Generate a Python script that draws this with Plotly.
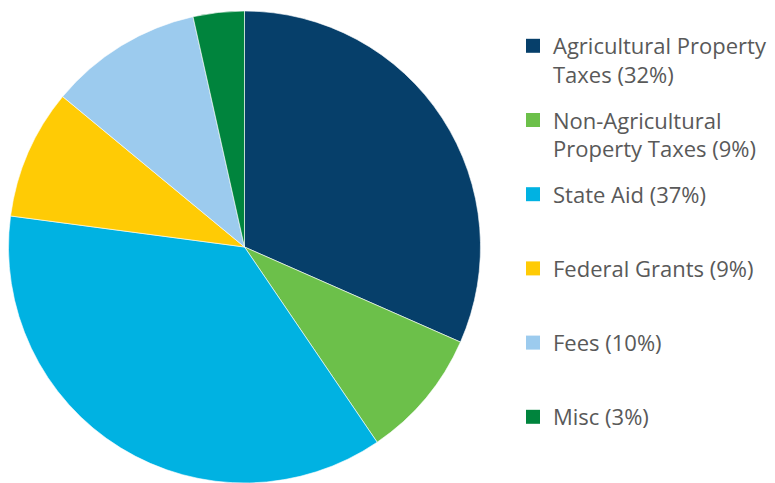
import plotly.graph_objects as go

# ---- data ----
labels = ["Agricultural Property Taxes", "Non-Agricultural Property Taxes",
          "State Aid", "Federal Grants", "Fees", "Misc"]
shares = [31.6, 8.9, 36.6, 8.9, 10.5, 3.5]
legend_text = ["Agricultural Property<br>Taxes (32%)",
               "Non-Agricultural<br>Property Taxes (9%)",
               "State Aid (37%)<br> ",
               "Federal Grants (9%)<br> ",
               "Fees (10%)<br> ",
               "Misc (3%)<br> "]
colors = ["#063f6a", "#6cc04a", "#00b2e2", "#ffcb05", "#9ccbee", "#00843d"]

W, H = 775, 483

fig = go.Figure()
fig.add_trace(go.Pie(
    labels=labels, values=shares, sort=False, direction="clockwise", rotation=0,
    textinfo="none", showlegend=False, automargin=False,
    marker=dict(colors=colors, line=dict(color="white", width=0.6)),
    domain=dict(x=[7 / W, 482 / W], y=[0, 1 - 11 / H]),
))

# legend entries (one group per entry so spacing can be set)
for i, (t, c) in enumerate(zip(legend_text, colors)):
    fig.add_trace(go.Scatter(
        x=[None], y=[None], mode="markers", name=t, legendgroup=f"g{i}",
        marker=dict(symbol="square", size=14, color=c), hoverinfo="skip",
    ))

fig.update_layout(
    width=W, height=H,
    margin=dict(l=0, r=0, t=0, b=0),
    paper_bgcolor="white", plot_bgcolor="white",
    xaxis=dict(visible=False), yaxis=dict(visible=False),
    legend=dict(
        x=513 / W, y=1 - 25 / H, xanchor="left", yanchor="top",
        font=dict(family="Open Sans, Roboto, sans-serif", size=22, color="#595959"),
        tracegroupgap=14, valign="top", bgcolor="rgba(0,0,0,0)",
        itemwidth=30, maxheight=1,
    ),
)

fig.write_html("out.html", config={"displayModeBar": False},
               post_script="document.body.style.margin='0';document.body.style.overflow='hidden';")
